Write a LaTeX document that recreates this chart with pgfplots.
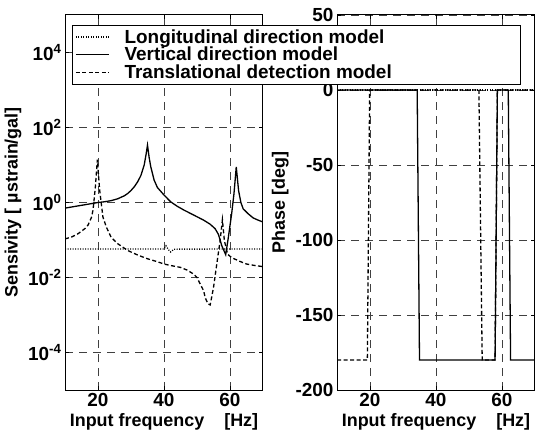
\documentclass[border=0pt]{standalone}
\usepackage{fontspec}
\setmainfont{Liberation Sans}
\usepackage{pgfplots}
\pgfplotsset{compat=1.18}

\begin{document}
\begin{tikzpicture}[font=\bfseries\fontsize{18}{21}\selectfont]
\useasboundingbox (0,0) rectangle (535bp,436bp);
\pgfplotsset{
  every axis/.append style={
    scale only axis, width=198bp, height=375bp,
    xmin=10, xmax=70, xtick={20,40,60}, xticklabels={20,40,60},
    grid=major,
    major grid style={black!75, dash pattern=on 8bp off 6bp, line width=0.8bp},
    tick align=inside, major tick length=4bp,
    axis line style={line width=1bp},
    every tick/.style={black, line width=0.7bp},
    tick label style={font=\bfseries\fontsize{19}{22}\selectfont},
    label style={font=\bfseries\fontsize{18}{21}\selectfont},
    xlabel={Input frequency\hspace{15bp} [Hz]},
  }
}
% ---------------- Phase (right) ----------------
\begin{axis}[at={(337bp,46bp)}, anchor=south west,
  ymin=-200, ymax=50, ytick={-200,-150,-100,-50,0,50},
  yticklabels={-200,-150,-100,-50,0,50},
  ylabel={Phase [deg]}]
\addplot[black, line width=1.3bp, dash pattern=on 1bp off 1.5bp] coordinates {(10,0) (70,0)};
\addplot[black, line width=1.3bp] coordinates {
(10,0) (34.3,0) (35,-180) (57.9,-180) (58.6,0) (61.9,0) (62.6,-180) (70,-180)};
\addplot[black, line width=1.3bp, dash pattern=on 4bp off 2.5bp] coordinates {
(10,-180) (19.2,-180) (19.9,0) (53,0) (54,-180) (57.9,-180) (58.6,0) (70,0)};
\end{axis}
% ---------------- Magnitude (left) ----------------
\begin{axis}[at={(65bp,46bp)}, anchor=south west,
  ymode=log, ymin=1e-5, ymax=1e5, ytick={1e-4,1e-2,1,1e2,1e4},
  yminorticks=false,
  yticklabels={10\textsuperscript{-4},10\textsuperscript{-2},10\textsuperscript{0},10\textsuperscript{2},10\textsuperscript{4}},
  ylabel={Sensivity [ µstrain/gal]},
  legend style={at={(0.035,0.973)}, anchor=north west, draw=black, line width=0.8bp,
    fill=white, inner ysep=2bp, row sep=-1.5bp,
    font=\bfseries\fontsize{19}{22}\selectfont},
  legend cell align=left,
  legend image code/.code={\draw[#1] (-6bp,0bp) -- (27bp,0bp);}]
\addplot[black, line width=1.3bp, dash pattern=on 1bp off 1.5bp] coordinates {
(10,0.0575) (40,0.0575) (40.6,0.07) (41.3,0.056) (42,0.048) (43,0.057) (70,0.0575)};
\addlegendentry{\hspace*{13bp}Longitudinal direction model}
\addplot[black, line width=1.3bp] coordinates {
(10,0.708) (12,0.759) (14,0.813) (16,0.871) (18,0.933) (20,1.0) (22,1.047) (24,1.122)
(26,1.259) (28,1.514) (29,1.738) (30,2.089) (31,2.630) (32,3.548) (33,5.248)
(34,10.0) (34.6,19.95) (35,33.9) (35.5,15.85) (36,8.913) (37,3.981) (38,2.512)
(39,1.995) (40,1.585) (42,1.047) (44,0.794) (46,0.631) (48,0.513) (50,0.417)
(52,0.339) (54,0.263) (55.5,0.200) (56.5,0.141) (57.5,0.0708) (58.7,0.0407)
(59.5,0.117) (60.5,0.501) (61.2,1.698) (61.9,8.913) (62.6,2.089) (63.3,1.0)
(64,0.676) (65.5,0.501) (67,0.389) (68.5,0.339) (70,0.302)};
\addlegendentry{\hspace*{13bp}Vertical direction model}
\addplot[black, line width=1.3bp, dash pattern=on 4bp off 2.5bp] coordinates {
(10,0.107) (12,0.120) (14,0.148) (16,0.200) (17,0.251) (18,0.398) (18.5,0.631)
(19.2,2.570) (19.8,13.80) (20.5,2.138) (21.5,0.407) (22.5,0.224) (24,0.117)
(26,0.0794) (29,0.0525) (32,0.0398) (35,0.0316) (38,0.0263) (40,0.0229)
(42,0.0209) (45,0.0186) (47,0.0158) (49,0.0123) (50,0.0100) (51,0.0066)
(52,0.00447) (52.5,0.00288) (53.3,0.00200) (54,0.00186) (55,0.00537)
(56,0.0229) (57,0.0955) (57.7,0.347) (58.3,0.0955) (59.3,0.0417) (60.5,0.0339)
(61.5,0.0309) (63,0.0269) (65,0.0229) (67.5,0.0209) (70,0.0195)};
\addlegendentry{\hspace*{13bp}Translational detection model\hspace*{124bp}}
\end{axis}
\end{tikzpicture}
\end{document}
